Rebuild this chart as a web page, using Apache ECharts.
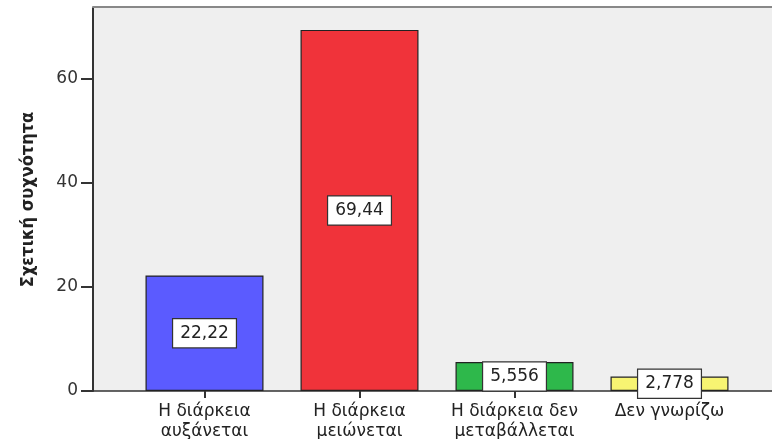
<!DOCTYPE html>
<html>
<head>
<meta charset="utf-8">
<script src="https://cdn.jsdelivr.net/npm/echarts@6/dist/echarts.min.js"></script>
<style>html,body{margin:0;padding:0;background:#fff;}#c{width:772px;height:439px;}</style>
</head>
<body>
<div id="c"></div>
<script>
const categories = ['Η διάρκεια\nαυξάνεται', 'Η διάρκεια\nμειώνεται', 'Η διάρκεια δεν\nμεταβάλλεται', 'Δεν γνωρίζω'];
const values = [22.22, 69.44, 5.556, 2.778];
const barColors = ['#5b5bff', '#f0333a', '#2eb84b', '#f7f472'];
const yTicks = [0, 20, 40, 60];
const yName = 'Σχετική συχνότητα';

const chart = echarts.init(document.getElementById('c'), null, {renderer: 'canvas'});
chart.setOption({
  animation: false,
  backgroundColor: '#ffffff',
  grid: [
    {left: 127, right: 25, top: 8, bottom: 48, show: false, outerBoundsMode: 'none', containLabel: false},
    {left: 93, right: -20, top: 7, bottom: 48, show: true, backgroundColor: '#efefef', borderWidth: 0, z: 0, outerBoundsMode: 'none', containLabel: false}
  ],
  xAxis: [
    {
      type: 'category', gridIndex: 0, data: categories,
      axisLine: {show: false},
      axisTick: {show: true, alignWithLabel: true, length: 7, lineStyle: {color: '#333', width: 2}},
      axisLabel: {color: '#222', fontFamily: 'DejaVu Sans', fontSize: 17, lineHeight: 20, margin: 11, interval: 0}
    },
    {
      type: 'value', gridIndex: 1, min: 0, max: 1, position: 'bottom',
      axisLine: {show: true, lineStyle: {color: '#333', width: 1.5}},
      axisTick: {show: false}, axisLabel: {show: false}, splitLine: {show: false}
    },
    {
      type: 'value', gridIndex: 1, min: 0, max: 1, position: 'top',
      axisLine: {show: true, lineStyle: {color: '#888', width: 2}},
      axisTick: {show: false}, axisLabel: {show: false}, splitLine: {show: false}
    }
  ],
  yAxis: [
    {
      type: 'value', gridIndex: 0, min: 0, max: 73.65, interval: 20, offset: 34,
      name: yName, nameLocation: 'middle', nameGap: 56, nameRotate: 90,
      nameTextStyle: {fontFamily: 'DejaVu Sans Condensed', fontWeight: 'bold', fontSize: 18, color: '#222'},
      axisLine: {show: true, lineStyle: {color: '#333', width: 2}},
      axisTick: {show: true, length: 12, lineStyle: {color: '#333', width: 2}, customValues: yTicks},
      axisLabel: {color: '#333', fontFamily: 'DejaVu Sans', fontSize: 17, margin: 15, customValues: yTicks},
      splitLine: {show: false}
    },
    {
      type: 'value', gridIndex: 1, min: 0, max: 1, show: false
    }
  ],
  series: [{
    type: 'bar', xAxisIndex: 0, yAxisIndex: 0, z: 3,
    barWidth: 118,
    data: values.map((v, i) => ({value: v, itemStyle: {color: barColors[i]}})),
    itemStyle: {borderColor: '#222', borderWidth: 1.2},
    label: {
      show: true, position: 'inside',
      formatter: p => String(p.value).replace('.', ','),
      color: '#222', fontFamily: 'DejaVu Sans', fontSize: 17,
      backgroundColor: '#ffffff', borderColor: '#333', borderWidth: 1.2,
      padding: [6, 7, 5, 7]
    }
  }]
});
</script>
</body>
</html>
